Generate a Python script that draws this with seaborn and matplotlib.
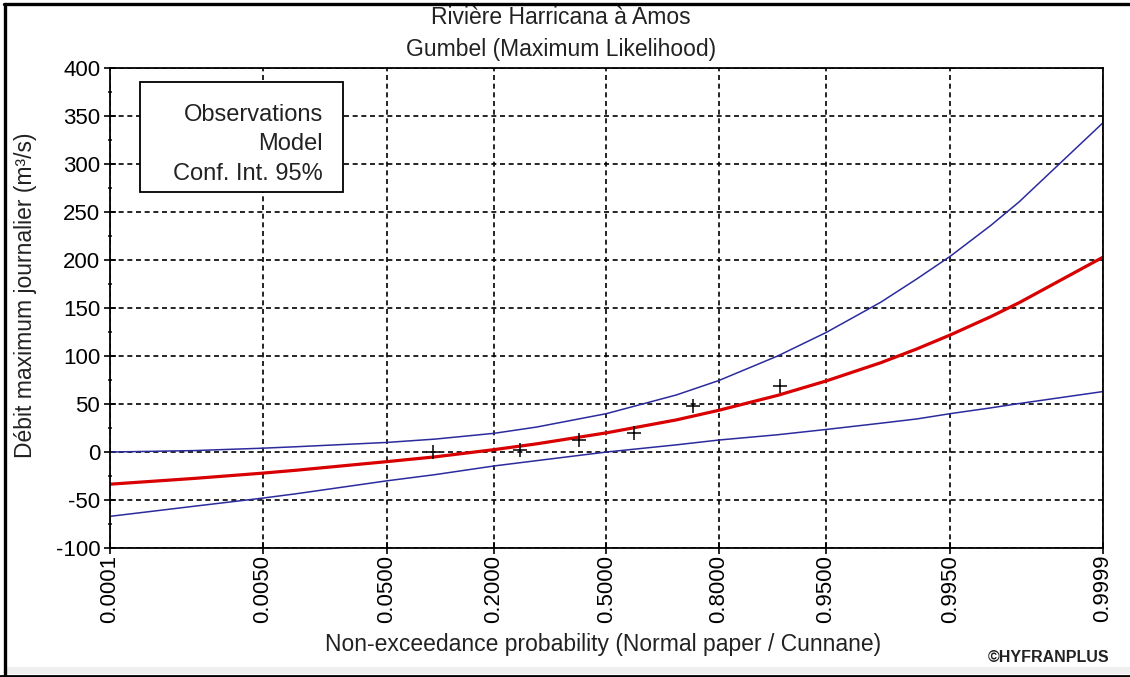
import matplotlib
matplotlib.use("Agg")
import matplotlib.pyplot as plt
from matplotlib.patches import Rectangle
from matplotlib.lines import Line2D
from matplotlib.ticker import MultipleLocator
import seaborn as sns
import pandas as pd
from statistics import NormalDist

# ---- data ----
prob = [0.0001, 0.001, 0.005, 0.01, 0.05, 0.1, 0.2, 0.3, 0.5, 0.7, 0.8,
        0.9, 0.95, 0.98, 0.99, 0.995, 0.998, 0.999, 0.9999]
model = [-33.5, -27.5, -22, -19, -10, -5, 2.5, 8.5, 20, 33.5, 43.5,
         59, 74, 93, 107.5, 122, 141, 155.5, 203]
upper = [0, 1.5, 4, 5.5, 10, 13.5, 19.5, 26, 40, 59.5, 74.5,
         100, 124.5, 156, 180.5, 204, 236, 260.5, 343]
lower = [-67, -56.5, -48, -43.5, -30, -23.5, -14.5, -9, 0, 7.5, 12.5,
         18, 23.5, 30, 34.5, 40, 46, 50.5, 63]
obs_prob = [0.0968, 0.2581, 0.4194, 0.5806, 0.7419, 0.9032]
obs_flow = [0.5, 2.5, 12.5, 19.5, 47.5, 69]
tick_probs = [0.0001, 0.005, 0.05, 0.2, 0.5, 0.8, 0.95, 0.995, 0.9999]
tick_labels = ["0.0001", "0.0050", "0.0500", "0.2000", "0.5000",
               "0.8000", "0.9500", "0.9950", "0.9999"]
y_ticks = [-100, -50, 0, 50, 100, 150, 200, 250, 300, 350, 400]

title1 = "Rivière Harricana à Amos"
title2 = "Gumbel (Maximum Likelihood)"
xlabel = "Non-exceedance probability (Normal paper / Cunnane)"
ylabel = "Débit maximum journalier (m³/s)"
legend_lines = ["Observations", "Model", "Conf. Int. 95%"]

# ---- normal probability paper ----
nd = NormalDist()
zq = lambda p: nd.inv_cdf(p)
curves = pd.DataFrame({"z": [zq(p) for p in prob], "model": model,
                       "upper": upper, "lower": lower})
obs = pd.DataFrame({"z": [zq(p) for p in obs_prob], "q": obs_flow})

sns.set_style("ticks")
plt.rcParams["font.family"] = ["Liberation Sans", "DejaVu Sans"]
plt.rcParams["axes.unicode_minus"] = False

fig = plt.figure(figsize=(11.3, 6.77), dpi=100)
ax = fig.add_axes([0.0973, 0.1905, 0.8788, 0.7090])

blue = "#2b2b9e"
red = "#d80000"
sns.lineplot(data=curves, x="z", y="upper", color=blue, lw=1.1, ax=ax,
             sort=False, estimator=None)
sns.lineplot(data=curves, x="z", y="lower", color=blue, lw=1.1, ax=ax,
             sort=False, estimator=None)
sns.lineplot(data=curves, x="z", y="model", color=red, lw=2.3, ax=ax,
             sort=False, estimator=None)
sns.scatterplot(data=obs, x="z", y="q", marker="+", s=110, color="black",
                linewidth=1.1, ax=ax, zorder=5)

ax.set_xlim(zq(tick_probs[0]), zq(tick_probs[-1]))
ax.set_ylim(y_ticks[0], y_ticks[-1])
ax.set_xticks([zq(p) for p in tick_probs])
ax.set_xticklabels(tick_labels, rotation=90, fontsize=16)
ax.set_yticks(y_ticks)
ax.yaxis.set_minor_locator(MultipleLocator(25))
ax.tick_params(axis="y", which="major", labelsize=16, length=8, width=1.2,
               direction="inout", pad=3, colors="black")
ax.tick_params(axis="y", which="minor", length=3, width=1.2, direction="inout")
ax.tick_params(axis="x", which="major", length=8, width=1.2, direction="inout",
               pad=1, colors="black")
ax.grid(True, which="major", color="black", linestyle=(0, (3, 2.2)), lw=1.2)

for sp in ax.spines.values():
    sp.set_visible(True)
    sp.set_color("black")
    sp.set_linewidth(1.3)

ax.set_xlabel(xlabel, fontsize=16.5, color="#222222")
ax.xaxis.set_label_coords(0.497, -0.178)
ax.set_ylabel(ylabel, fontsize=16.5, color="#222222")
ax.yaxis.set_label_coords(-0.0735, 0.527)

# legend box (text only, as in the reference)
ax.add_patch(Rectangle((0.0302, 0.7417), 0.2044, 0.2291, transform=ax.transAxes,
                       facecolor="white", edgecolor="black", lw=1.3, zorder=6))
for txt, yy in zip(legend_lines, [0.902, 0.842, 0.779]):
    ax.text(0.2145, yy, txt, transform=ax.transAxes, ha="right", va="center",
            fontsize=17, color="#222222", zorder=7)

# titles
fig.text(0.4965, 0.9645, title1, ha="center", va="baseline", fontsize=16.5,
         color="#222222")
fig.text(0.4965, 0.9175, title2, ha="center", va="baseline", fontsize=16.5,
         color="#222222")
fig.text(0.982, 0.022, "©HYFRANPLUS", ha="right", va="baseline", fontsize=11.5,
         fontweight="bold", color="#222222")

# outer frame of the screenshot
fig.add_artist(Rectangle((7 / 1130, 3 / 677), 1 - 7 / 1130, 7 / 677,
                         transform=fig.transFigure, facecolor="#efefef",
                         edgecolor="none"))
fig.add_artist(Line2D([5 / 1130, 5 / 1130], [0, 1 - 4 / 677],
                      transform=fig.transFigure, color="black", lw=2.4))
fig.add_artist(Line2D([4 / 1130, 1], [1 - 4 / 677, 1 - 4 / 677],
                      transform=fig.transFigure, color="black", lw=2.4))
fig.add_artist(Line2D([0, 1], [1 / 677, 1 / 677],
                      transform=fig.transFigure, color="black", lw=2.0))

fig.savefig("out.png", dpi=100)
